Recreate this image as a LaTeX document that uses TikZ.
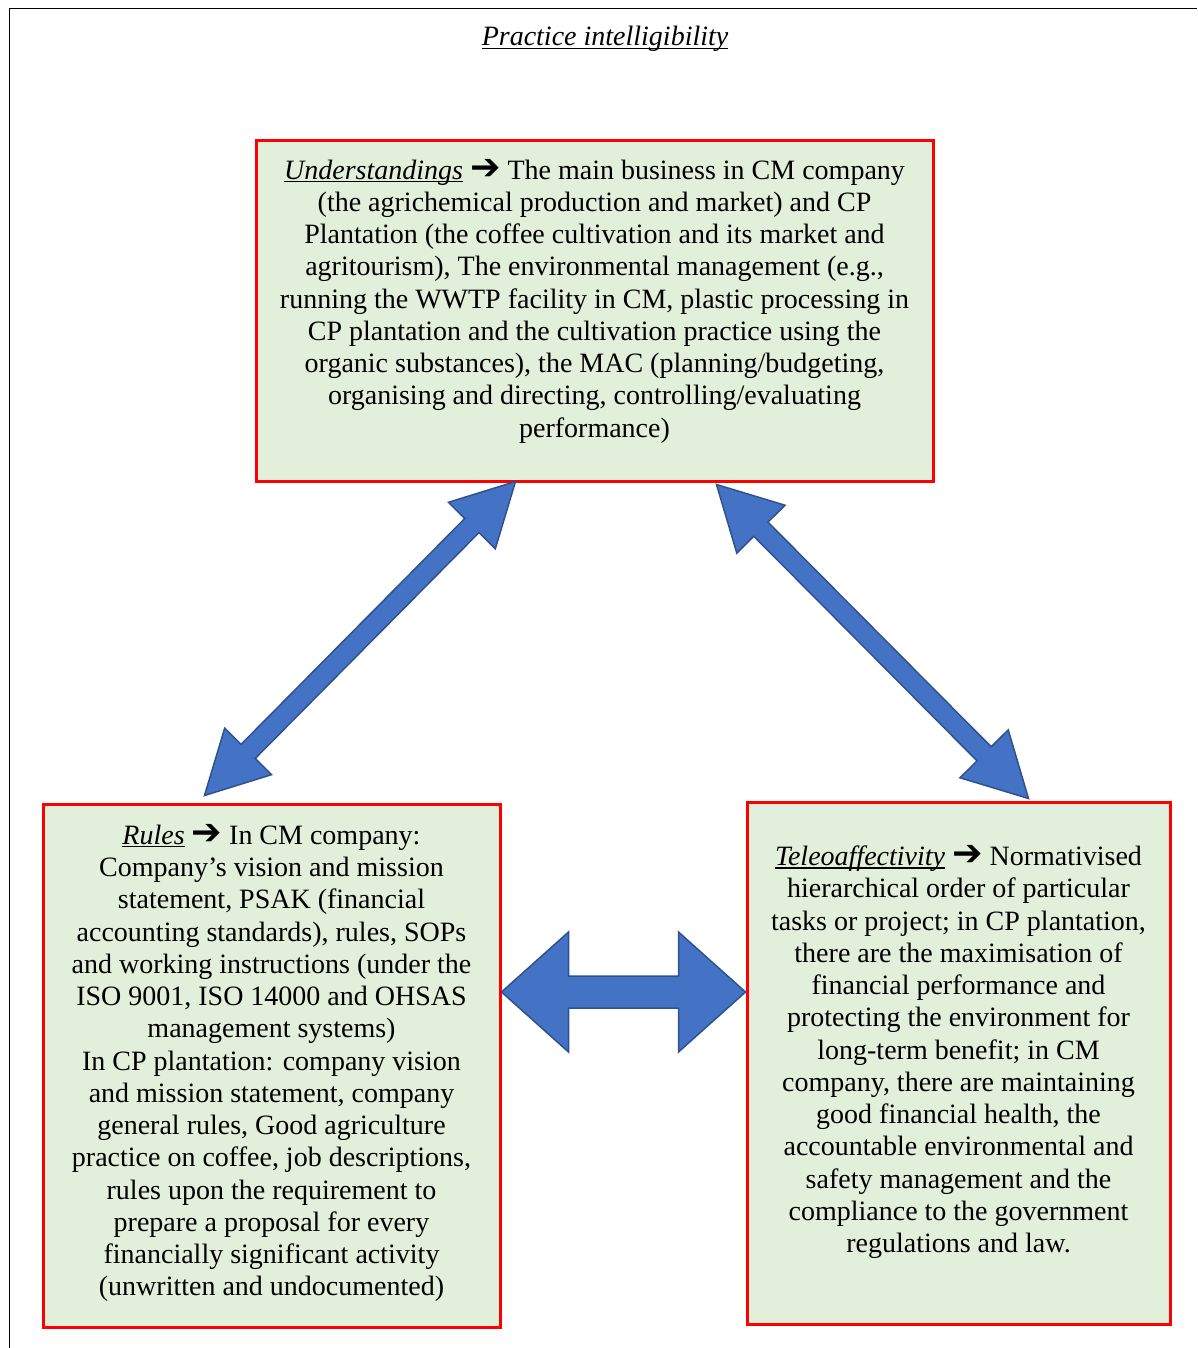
\documentclass[tikz,border=0pt]{standalone}
\usepackage{fontspec}
\setmainfont{Liberation Serif}
\newfontfamily\arrowfont{DejaVu Sans}
\usetikzlibrary{calc}
\definecolor{boxgreen}{HTML}{E2EFDA}
\definecolor{boxred}{HTML}{FF0000}
\definecolor{arrowblue}{HTML}{4472C4}
\definecolor{arrowedge}{HTML}{2F528F}
% underline that runs through descenders, word-processor style
\newcommand\ulword[1]{\setbox0=\hbox{#1}\rlap{\rule[-0.109em]{\wd0}{0.05em}}\box0\relax}
\newcommand\headarrow{\scalebox{1.3}{\arrowfont\bfseries ➔}}
% block double arrow: tip A, tip B, shaft half width, head half width, head length
\newcommand\dblarrow[5]{%
  \filldraw[blockarrow]
    (#1) -- ($(#1)!#5!(#2)!#4!90:(#2)$) -- ($(#1)!#5!(#2)!#3!90:(#2)$)
    -- ($(#2)!#5!(#1)!#3!-90:(#1)$) -- ($(#2)!#5!(#1)!#4!-90:(#1)$)
    -- (#2) -- ($(#2)!#5!(#1)!#4!90:(#1)$) -- ($(#2)!#5!(#1)!#3!90:(#1)$)
    -- ($(#1)!#5!(#2)!#3!-90:(#2)$) -- ($(#1)!#5!(#2)!#4!-90:(#2)$) -- cycle;}
\begin{document}
\begin{tikzpicture}[x=1pt,y=-1pt,
  box/.style={draw=boxred, fill=boxgreen, line width=3pt, inner sep=0pt},
  txt/.style={align=center, inner sep=0pt, font=\fontsize{28}{32.25}\selectfont},
  blockarrow/.style={fill=arrowblue, draw=arrowedge, line width=1.5pt, line join=miter}]
\useasboundingbox (0,0) rectangle (1197,1348);
% page frame
\draw[line width=1.5pt] (9.5,1348) -- (9.5,8.5) -- (1197,8.5);

\node[txt, anchor=base] (title) at (605,46) {\itshape\ulword{Practice intelligibility}};

% the three element boxes
\node[box, minimum width=677pt, minimum height=340pt] (und) at (594.5,311) {};
\node[box, minimum width=457pt, minimum height=523pt] (rules) at (271.5,1065.5) {};
\node[box, minimum width=423pt, minimum height=522pt] (tele) at (958.5,1063) {};

\node[txt] (undtext) at (594.5,301) {\ulword{\itshape Understandings} \headarrow{} The main business in CM company\\
(the agrichemical production and market) and CP\\
Plantation (the coffee cultivation and its market and\\
agritourism), The environmental management (e.g.,\\
running the WWTP facility in CM, plastic processing in\\
CP plantation and the cultivation practice using the\\
organic substances), the MAC (planning/budgeting,\\
organising and directing, controlling/evaluating\\
performance)};

\node[txt] (rulestext) at (271.5,1063) {\ulword{\itshape Rules} \headarrow{} In CM company:\\
Company’s vision and mission\\
statement, PSAK (financial\\
accounting standards), rules, SOPs\\
and working instructions (under the\\
ISO 9001, ISO 14000 and OHSAS\\
management systems)\\
In CP plantation: company vision\\
and mission statement, company\\
general rules, Good agriculture\\
practice on coffee, job descriptions,\\
rules upon the requirement to\\
prepare a proposal for every\\
financially significant activity\\
(unwritten and undocumented)};

\node[txt] (teletext) at (958.5,1052) {\ulword{\itshape Teleoaffectivity} \headarrow{} Normativised\\
hierarchical order of particular\\
tasks or project; in CP plantation,\\
there are the maximisation of\\
financial performance and\\
protecting the environment for\\
long-term benefit; in CM\\
company, there are maintaining\\
good financial health, the\\
accountable environmental and\\
safety management and the\\
compliance to the government\\
regulations and law.};

% connectors between the boxes
\coordinate (u1) at ([xshift=261pt,yshift=1pt]und.south west);
\coordinate (r1) at ([xshift=163pt,yshift=7pt]rules.north west);
\dblarrow{u1}{r1}{10pt}{33pt}{62pt}

\coordinate (u2) at ([xshift=462pt,yshift=-2pt]und.south west);
\coordinate (t2) at ([xshift=283pt,yshift=2pt]tele.north west);
\dblarrow{u2}{t2}{10pt}{34pt}{63pt}

\coordinate (r3) at ([yshift=73.5pt]rules.east);
\coordinate (t3) at ([yshift=71pt]tele.west);
\dblarrow{r3}{t3}{16pt}{60pt}{67pt}
\end{tikzpicture}
\end{document}
